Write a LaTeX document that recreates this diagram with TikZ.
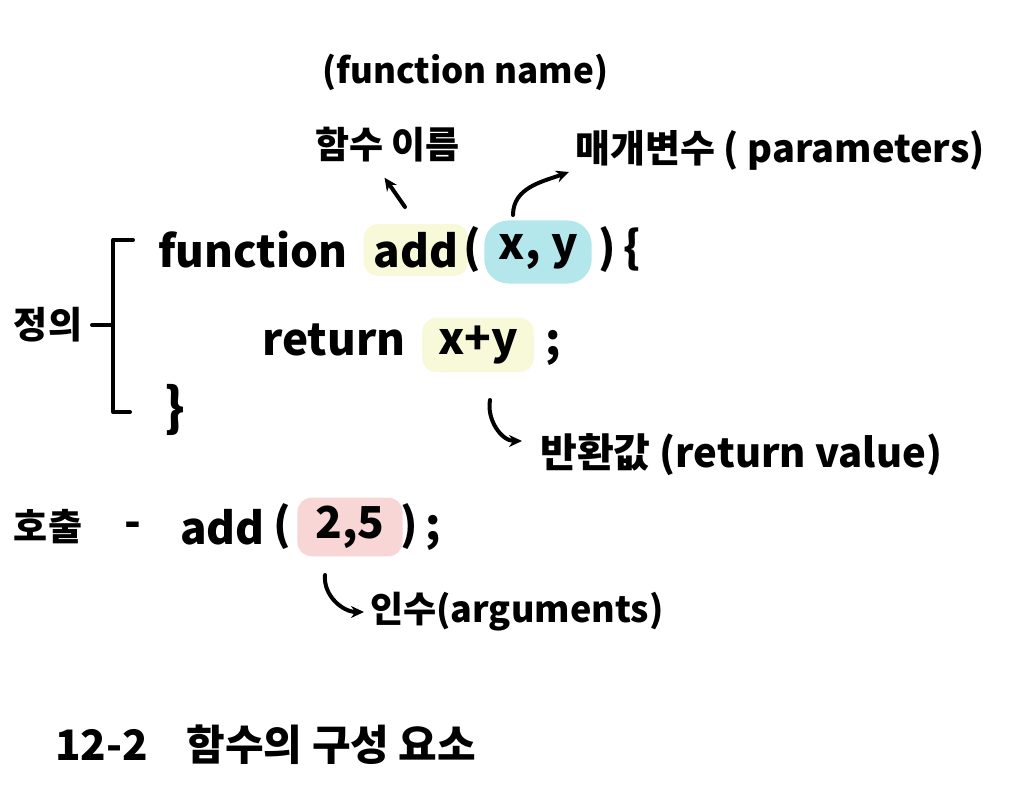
\documentclass[tikz,border=0pt]{standalone}
\usepackage{fontspec}
\setmainfont{Noto Sans CJK KR}
\usetikzlibrary{arrows.meta,calc,positioning}
\definecolor{hlyellow}{HTML}{F7F9D9}
\definecolor{hlblue}{HTML}{B3E7EB}
\definecolor{hlpink}{HTML}{F8D6D6}
\tikzset{
  pen/.style={line width=4pt,line cap=round,line join=round},
  arrow/.style={pen,-{Stealth[length=13pt,width=12pt]}},
  hand/.style={inner sep=0pt,font=\fontsize{44}{48}\selectfont\bfseries},
  note/.style={inner sep=0pt,font=\fontsize{35}{40}\selectfont\bfseries},
  hilite/.style={hand,rounded corners=14pt,inner xsep=10pt,inner ysep=8pt}
}
\begin{document}
\begin{tikzpicture}[x=1pt,y=-1pt]
\useasboundingbox[fill=white] (0,0) rectangle (1036,799);
% definition
\node[hand,anchor=west] (kwfn) at (158,250) {function};
\node[hilite,fill=hlyellow] (addname) at (416,250) {add};
\node[hand] (lparen) at (472,250) {(};
\node[hilite,fill=hlblue,rounded corners=24pt,inner xsep=14pt,inner ysep=14pt] (params) at (538,252) {x, y};
\node[hand,anchor=west] (rparen) at (598,250) {)\,\{};
\node[hand,anchor=west] (kwret) at (262,340) {return};
\node[hilite,fill=hlyellow,inner xsep=16pt] (sum) at (478,345) {x+y};
\node[hand] (semi) at (553,348) {;};
\node[hand,font=\fontsize{52}{56}\selectfont\bfseries] (closing) at (175,410) {\}};
\node[note,font=\fontsize{37}{42}\selectfont\bfseries] (defko) at (48,325) {정의};
% bracket
\draw[pen] (133,240) -- (113,240) -- (113,412) -- (130,412);
\draw[pen] (92,325) -- (113,325);
% labels
\node[note,anchor=west] (fnen) at (322,72) {(function name)};
\node[note,anchor=west,font=\fontsize{37}{42}\selectfont\bfseries] (fnko) at (315,145) {함수 이름};
\node[note,anchor=west,font=\fontsize{38}{42}\selectfont\bfseries] (paramko) at (575,150) {매개변수 ( parameters)};
\node[note,anchor=west,font=\fontsize{40}{44}\selectfont\bfseries] (retval) at (540,455) {반환값 (return value)};
% call
\node[note,font=\fontsize{37}{42}\selectfont\bfseries] (callko) at (48,527) {호출};
\node[hand] (dash) at (133,530) {-};
\node[hand,anchor=west] (calladd) at (180,527) {add};
\node[hand] (clparen) at (282,527) {(};
\node[hilite,fill=hlpink,inner xsep=18pt] (args) at (350,527) {2,5};
\node[hand,anchor=west] (crparen) at (400,527) {)\,;};
\node[note,anchor=west,font=\fontsize{36}{40}\selectfont\bfseries] (argko) at (370,612) {인수(arguments)};
% title
\node[note,anchor=west,font=\fontsize{42}{46}\selectfont\bfseries] (title) at (55,745) {12-2 \ \ \ 함수의 구성 요소};
% arrows
\coordinate (fnfrom) at (405,207);
\coordinate (parfrom) at (513,215);
\coordinate (retfrom) at (490,400);
\coordinate (argfrom) at (325,575);
\draw[arrow] (fnfrom) -- ($(fnko.south)+(-3,15)$);
\draw[arrow] (parfrom) to[out=90,in=200] ($(paramko.west)+(-6,22)$);
\draw[arrow] (retfrom) to[out=-100,in=180] ($(retval.west)+(-18,-14)$);
\draw[arrow] (argfrom) to[out=-95,in=180] ($(argko.west)+(-6,0)$);
\end{tikzpicture}
\end{document}
